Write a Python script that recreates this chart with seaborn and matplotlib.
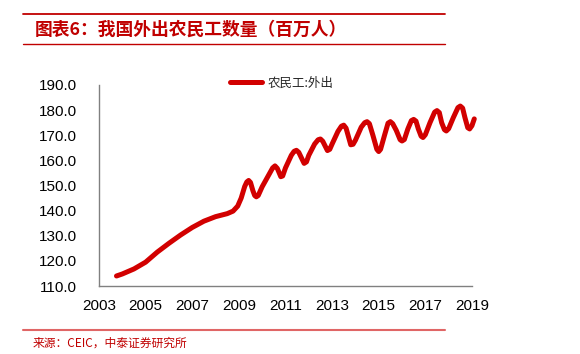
import numpy as np
import pandas as pd
import seaborn as sns
import matplotlib.pyplot as plt
from matplotlib.lines import Line2D

# values (million people), x in decimal years
years = [2003.75, 2004.0, 2004.5, 2005.0, 2005.5, 2006.0, 2006.5, 2007.0, 2007.5, 2008.0,
         2008.5, 2008.75, 2008.95, 2009.1, 2009.25, 2009.34, 2009.42, 2009.5, 2009.6, 2009.68,
         2009.75, 2009.83, 2010.0, 2010.3, 2010.45, 2010.55, 2010.65, 2010.8, 2010.88, 2011.0,
         2011.25, 2011.37, 2011.47, 2011.57, 2011.8, 2011.9, 2012.0, 2012.25, 2012.4, 2012.5,
         2012.6, 2012.8, 2012.9, 2013.0, 2013.25, 2013.4, 2013.5, 2013.6, 2013.8, 2013.9,
         2014.0, 2014.25, 2014.4, 2014.5, 2014.6, 2014.75, 2014.92, 2015.0, 2015.08, 2015.25,
         2015.4, 2015.5, 2015.6, 2015.75, 2015.92, 2016.0, 2016.1, 2016.25, 2016.4, 2016.5,
         2016.6, 2016.7, 2016.82, 2016.9, 2017.0, 2017.2, 2017.4, 2017.5, 2017.6, 2017.7,
         2017.82, 2017.9, 2018.0, 2018.2, 2018.4, 2018.5, 2018.6, 2018.7, 2018.82, 2018.9,
         2019.0, 2019.1]
workers = [114.0, 114.8, 116.8, 119.5, 123.5, 127.0, 130.3, 133.3, 135.8, 137.6,
           138.8, 139.8, 141.8, 145.0, 149.6, 151.4, 152.0, 151.2, 148.0, 146.0,
           145.5, 146.0, 149.5, 154.5, 157.0, 157.8, 156.8, 153.5, 153.8, 157.0,
           162.0, 163.6, 164.0, 163.2, 158.8, 159.4, 162.0, 166.5, 168.2, 168.5,
           167.6, 163.9, 164.4, 166.5, 171.5, 173.6, 174.0, 172.8, 166.2, 166.4,
           168.0, 173.2, 175.0, 175.4, 174.6, 170.0, 164.4, 163.5, 164.4, 170.0,
           174.8, 175.4, 174.6, 172.0, 168.2, 167.7, 168.3, 172.5, 175.8, 176.3,
           175.6, 172.5, 169.6, 169.1, 170.2, 175.0, 179.2, 179.8, 179.0, 175.0,
           172.2, 171.7, 172.6, 177.0, 181.0, 181.6, 180.8, 177.0, 173.0, 172.5,
           173.8, 176.5]
xticks = list(range(2003, 2020, 2))
yticks = [110, 120, 130, 140, 150, 160, 170, 180, 190]

title = "图表6：我国外出农民工数量（百万人）"
source = "来源：CEIC，中泰证券研究所"
label = "农民工:外出"

sns.set_theme(style="white")
plt.rcParams['font.family'] = ['Liberation Sans', 'Noto Sans CJK SC', 'DejaVu Sans']

df = pd.DataFrame({"year": years, "value": workers})

fig = plt.figure(figsize=(5.8, 3.54), dpi=100)
ax = fig.add_axes([0.1707, 0.192, 0.643, 0.568])

red = "#d20000"
sns.lineplot(data=df, x="year", y="value", ax=ax, color=red, linewidth=3.6,
             solid_capstyle="round", solid_joinstyle="round", legend=False)

ax.set_xlim(2003, 2019)
ax.set_ylim(110, 190)
ax.set_xticks(xticks)
ax.set_xticklabels([str(t) for t in xticks], fontsize=11)
ax.set_yticks(yticks)
ax.set_yticklabels([f"{t:.1f}" for t in yticks], fontsize=11)
ax.set_xlabel("")
ax.set_ylabel("")
for s in ["top", "right"]:
    ax.spines[s].set_visible(False)
for s in ["left", "bottom"]:
    ax.spines[s].set_color("#808080")
    ax.spines[s].set_linewidth(1.0)
ax.tick_params(axis="x", direction="in", length=4, pad=9, colors="black")
ax.tick_params(axis="y", direction="out", length=4, pad=12, colors="black")
for t in ax.get_xticklines() + ax.get_yticklines():
    t.set_color("#808080")
ax.patch.set_visible(False)
ax.lines[0].set_clip_on(False)

handle = Line2D([0], [0], color=red, linewidth=3.6)
ax.legend([handle], [label], loc="center left", bbox_to_anchor=(0.32, 1.01),
          frameon=False, handlelength=2.6, handletextpad=0.4,
          prop={"family": ["Noto Sans CJK SC"], "size": 9})

# header / footer rules and texts
fig.add_artist(Line2D([23 / 580, 445 / 580], [1 - 14 / 354] * 2, color="#c00000", linewidth=1.3))
fig.add_artist(Line2D([23 / 580, 445 / 580], [1 - 44 / 354] * 2, color="#c00000", linewidth=1.0))
fig.add_artist(Line2D([23 / 580, 445 / 580], [1 - 330 / 354] * 2, color="#e06666", linewidth=1.5))
fig.text(35 / 580, 1 - 30 / 354, title, color="#c00000", fontsize=12.8, fontweight="bold",
         fontstyle="italic", family=["Noto Sans CJK SC", "DejaVu Sans"], va="center", ha="left")
fig.text(33 / 580, 1 - 343 / 354, source, color="#c00000", fontsize=8.5,
         family=["Noto Sans CJK SC", "DejaVu Sans"], va="center", ha="left")

fig.savefig("out.png", dpi=100)
plt.close(fig)
